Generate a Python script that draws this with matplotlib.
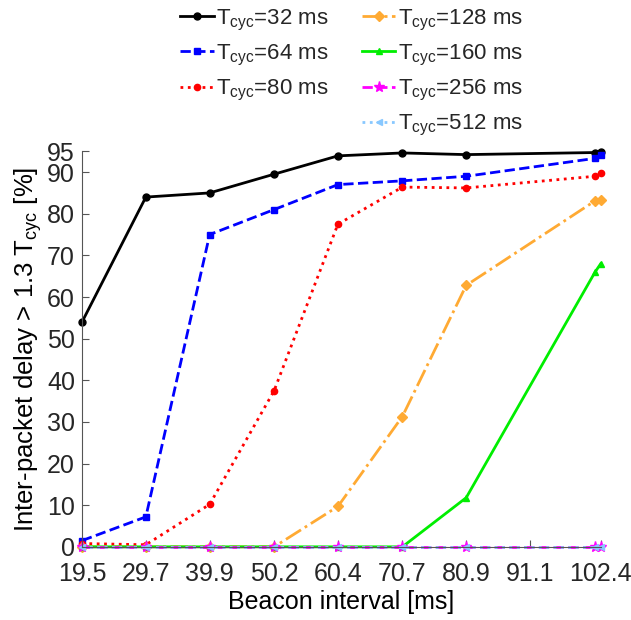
import matplotlib.pyplot as plt
from matplotlib.lines import Line2D

plt.rcParams['font.family'] = ['Liberation Sans', 'DejaVu Sans']
plt.rcParams['mathtext.fontset'] = 'custom'
plt.rcParams['mathtext.rm'] = 'Liberation Sans'
plt.rcParams['text.color'] = '#262626'

# beacon intervals [ms] where measurements were taken
beacon = [19.5, 29.7, 39.9, 50.2, 60.4, 70.7, 80.9, 101.5, 102.4]
xticks = [19.5, 29.7, 39.9, 50.2, 60.4, 70.7, 80.9, 91.1, 102.4]
yticks = [0, 10, 20, 30, 40, 50, 60, 70, 80, 90, 95]

# percentage of inter-packet delays > 1.3 Tcyc
t32 = [54.0, 84.0, 85.0, 89.5, 93.9, 94.6, 94.2, 94.7, 94.9]
t64 = [1.5, 7.2, 75.0, 81.0, 87.0, 87.9, 89.0, 93.3, 94.0]
t80 = [0.8, 0.5, 10.2, 37.5, 77.5, 86.4, 86.2, 89.0, 89.8]
t128 = [0, 0, 0, 0, 9.7, 31.3, 62.8, 83.1, 83.2]
t160 = [0, 0, 0, 0, 0, 0, 11.8, 66.0, 68.0]
t256 = [0, 0, 0, 0, 0, 0, 0, 0, 0]
t512 = [0, 0, 0, 0, 0, 0, 0, 0, 0]

labels = ['32', '64', '80', '128', '160', '256', '512']

fig = plt.figure(figsize=(6.31, 6.2), dpi=100)
ax = fig.add_axes([0.130, 0.118, 0.822, 0.638])

h1, = ax.plot(beacon, t32, '-', color='black', marker='o', ms=5, lw=2, clip_on=False)
h2, = ax.plot(beacon, t64, '--', color='#0000ff', marker='s', ms=4, lw=2, clip_on=False)
h3, = ax.plot(beacon, t80, ':', color='#ff0000', marker='o', ms=4.5, lw=2, clip_on=False)
h4, = ax.plot(beacon, t128, '-.', color='#ffaa33', marker='D', ms=5, lw=2, clip_on=False)
h5, = ax.plot(beacon, t160, '-', color='#00ee00', marker='^', ms=5, lw=2, clip_on=False)
h6, = ax.plot(beacon, t256, '--', color='#ff00ff', marker='*', ms=8, lw=2, clip_on=False)
h7, = ax.plot(beacon, t512, ':', color='#88c8ff', marker='<', ms=5, lw=2, clip_on=False)

ax.set_xlim(19.5, 102.4)
ax.set_ylim(0, 95)
ax.set_xticks(xticks)
ax.set_xticklabels([str(v) for v in xticks])
ax.set_yticks(yticks)
ax.tick_params(direction='in', labelsize=18, color='#555555', labelcolor='#262626', length=5)
ax.tick_params(axis='x', pad=11)
ax.tick_params(axis='y', pad=5)
for s in ['top', 'right']:
    ax.spines[s].set_visible(False)
for s in ['left', 'bottom']:
    ax.spines[s].set_color('#555555')
ax.set_xlabel('Beacon interval [ms]', fontsize=18, labelpad=3)
ax.set_ylabel('Inter-packet delay > 1.3 T$_{\\mathrm{cyc}}$ [%]', fontsize=18.5, labelpad=2)

blank = Line2D([], [], linestyle='none')
handles = [h1, h2, h3, blank, h4, h5, h6, h7]
names = ['T$_{\\mathrm{cyc}}$=%s ms' % l for l in labels[:3]] + [''] + \
        ['T$_{\\mathrm{cyc}}$=%s ms' % l for l in labels[3:]]
fig.legend(handles, names, ncol=2, loc='upper center', bbox_to_anchor=(0.557, 1.02),
           frameon=False, fontsize=16, handlelength=1.5, handletextpad=0.1,
           columnspacing=1.5, labelspacing=0.45)

fig.savefig('out.png', dpi=100)
